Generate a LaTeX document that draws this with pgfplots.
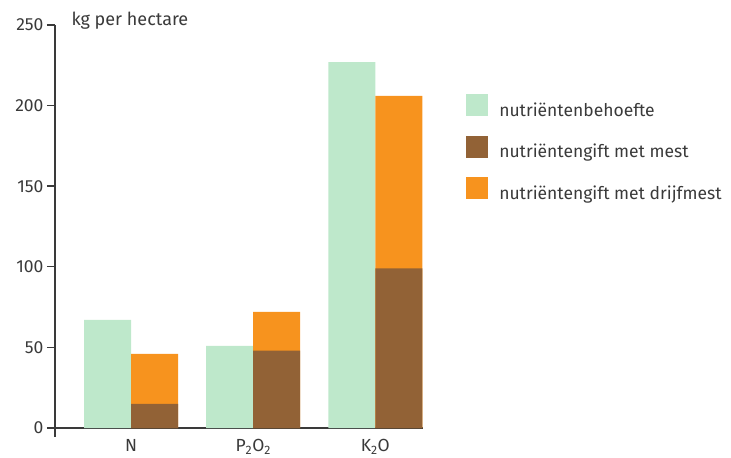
\documentclass[border=0pt]{standalone}
\usepackage{fontspec}
\setmainfont{Fira Sans}
\usepackage{pgfplots}
\pgfplotsset{compat=1.18}
\usepackage{pgfplotstable}

\definecolor{behoefte}{HTML}{BEE8CB}
\definecolor{mest}{HTML}{926236}
\definecolor{drijf}{HTML}{F7931E}
\definecolor{txt}{HTML}{3A3A3A}

% kg per hectare: behoefte, gift met mest, extra gift met drijfmest
\pgfplotstableread{
x behoefte mest drijf
0 67  15  31
1 51  48  24
2 227 99  107
}\data

\pgfplotsset{sq legend/.style={legend image code/.code={\fill[##1] (0bp,-6bp) rectangle (22bp,16bp);}}}

\begin{document}
\begin{tikzpicture}[every node/.style={text=txt}]
\useasboundingbox (-55bp,-30bp) rectangle (676bp,428bp);
\begin{axis}[
    at={(0,0)}, anchor=south west,
    scale only axis, width=368bp, height=403bp,
    xmin=-0.623, xmax=2.39, ymin=0, ymax=250,
    axis x line*=bottom, axis y line*=left,
    axis line style={line width=1.6bp, draw=txt},
    ytick={0,50,...,250},
    tick align=outside, major tick length=8bp,
    tick style={line width=1.4bp, draw=txt},
    xtick={0,1,2},
    xticklabels={N, P\textsubscript{2}O\textsubscript{2}, K\textsubscript{2}O},
    x tick style={draw=none},
    ybar, bar width=47bp,
    clip=false,
    font=\fontsize{17.5bp}{20bp}\selectfont,
    /pgf/number format/assume math mode=true,
    legend style={at={(1.117,0.829)}, anchor=north west, draw=none, fill=none,
        inner sep=0pt, row sep=16bp, font=\fontsize{17.5bp}{20bp}\selectfont,
        /tikz/every odd column/.style={column sep=9bp}},
    legend cell align=left,
]
\addplot[fill=behoefte, draw=none, bar shift=-23.5bp, sq legend] table[x=x, y=behoefte] {\data};
\addlegendentry{nutriëntenbehoefte}
\addplot[fill=drijf, draw=none, bar shift=23.5bp, forget plot] table[x=x, y expr=\thisrow{mest}+\thisrow{drijf}] {\data};
\addplot[fill=mest, draw=none, bar shift=23.5bp, sq legend] table[x=x, y=mest] {\data};
\addlegendentry{nutriëntengift met mest}
\addlegendimage{fill=drijf, draw=none, sq legend}
\addlegendentry{nutriëntengift met drijfmest}
\draw[line width=1.6bp, txt] (rel axis cs:0,0) -- ([yshift=-9bp]rel axis cs:0,0);
\node[anchor=base west, font=\fontsize{18bp}{20bp}\selectfont] at (rel axis cs:0,1) [xshift=13bp, yshift=-1bp] {kg per hectare};
\end{axis}
\end{tikzpicture}
\end{document}
